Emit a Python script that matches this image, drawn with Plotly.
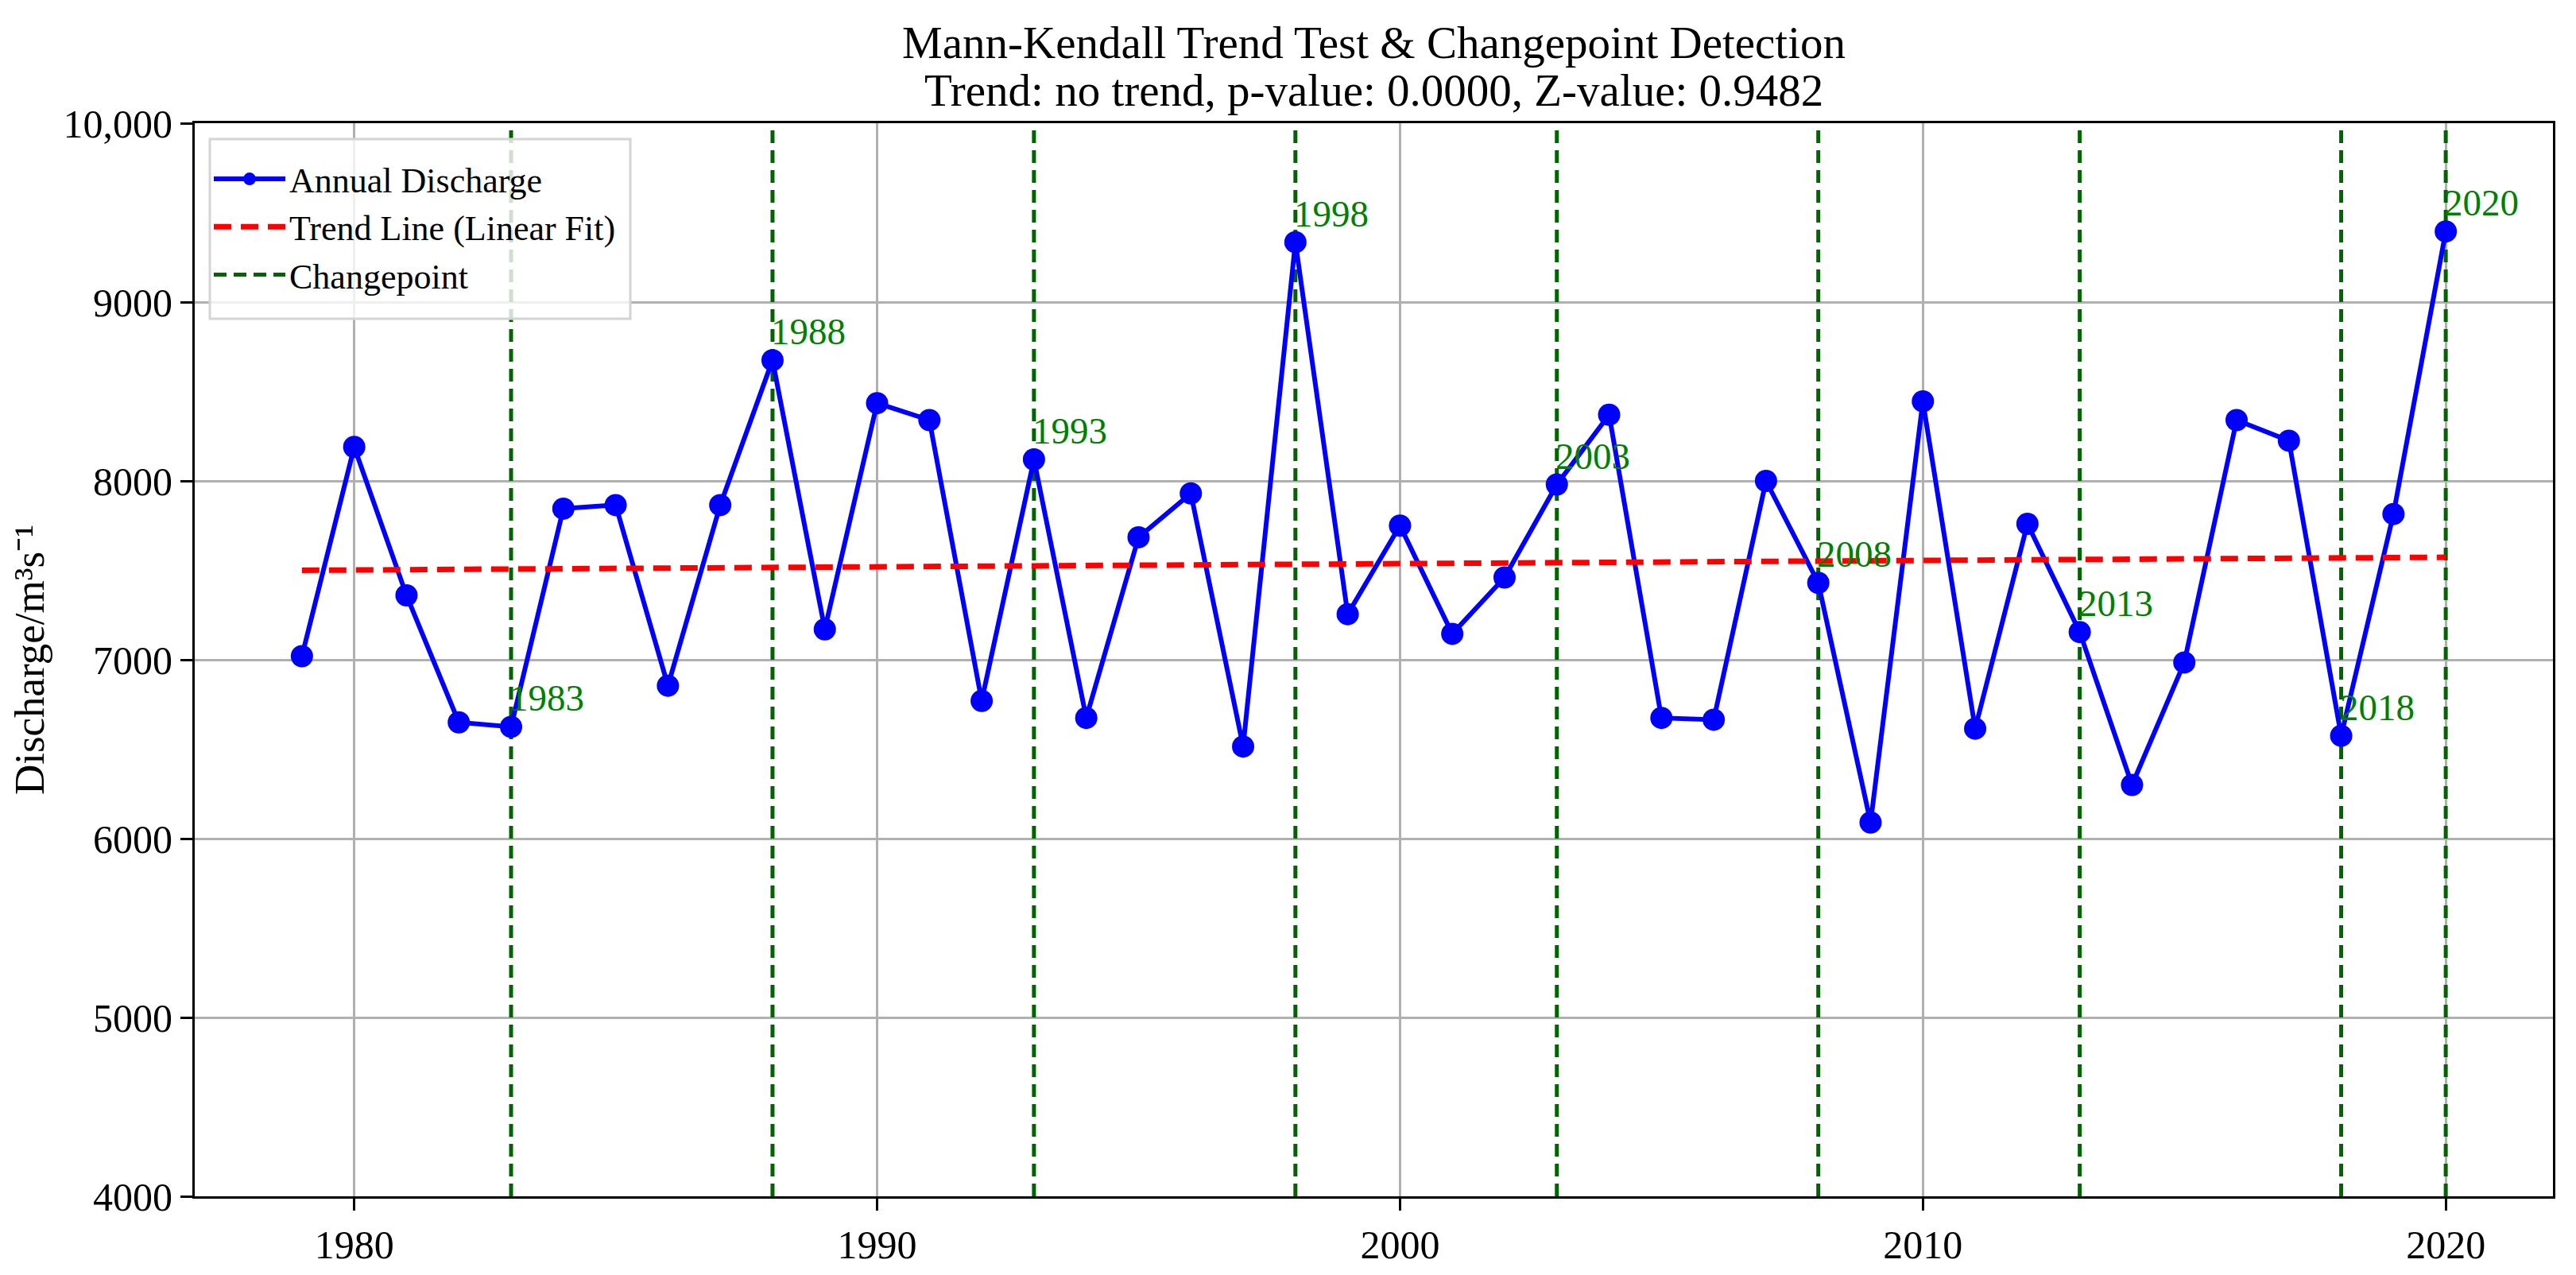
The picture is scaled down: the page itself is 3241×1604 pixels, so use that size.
import plotly.graph_objects as go

years = list(range(1979, 2021))
discharge = [7020, 8190, 7360, 6650, 6625, 7845, 7865, 6855, 7865, 8675,
             7170, 8435, 8340, 6770, 8120, 6675, 7685, 7930, 6515, 9335,
             7255, 7750, 7145, 7460, 7980, 8370, 6675, 6665, 8000, 7430,
             6090, 8445, 6615, 7760, 7155, 6300, 6985, 8340, 8225, 6575,
             7815, 9395]
trend_years = [1979, 2020]
trend_values = [7500, 7573]
changepoints = [1983, 1988, 1993, 1998, 2003, 2008, 2013, 2018, 2020]
y_ticks = [4000, 5000, 6000, 7000, 8000, 9000, 10000]
y_tick_labels = ["4000", "5000", "6000", "7000", "8000", "9000", "10,000"]
x_ticks = [1980, 1990, 2000, 2010, 2020]
y_min, y_max = 4000, 10000
title_lines = ["Mann-Kendall Trend Test & Changepoint Detection",
               "Trend: no trend, p-value: 0.0000, Z-value: 0.9482"]

FONT = "Liberation Serif"
W, H = 3241, 1604
ML, MR, MT, MB = 237, 37, 147, 107
PW, PH = W - ML - MR, H - MT - MB

fig = go.Figure()

# changepoint vertical lines
cx, cy = [], []
for c in changepoints:
    cx += [c, c, None]
    cy += [y_min, y_max, None]
fig.add_trace(go.Scatter(x=cx, y=cy, mode="lines", name="Changepoint",
                         line=dict(color="#006400", width=5, dash="16px,9px"),
                         hoverinfo="skip", legendrank=3))

fig.add_trace(go.Scatter(x=years, y=discharge, mode="lines+markers",
                         name="Annual Discharge",
                         line=dict(color="#0000ff", width=6),
                         marker=dict(color="#0000ff", size=28), legendrank=1))

fig.add_trace(go.Scatter(x=trend_years, y=trend_values, mode="lines",
                         name="Trend Line (Linear Fit)",
                         line=dict(color="#ff0000", width=7, dash="22px,12px"),
                         legendrank=2))

val = dict(zip(years, discharge))
for c in changepoints:
    fig.add_annotation(x=c, y=val[c], text=str(c), showarrow=False,
                       xanchor="left", yanchor="bottom", xshift=-4, yshift=8,
                       font=dict(family=FONT, size=47, color="#008000"))

# title lines
for txt, ypx in zip(title_lines, [46, 106]):
    fig.add_annotation(x=0.5, y=(H - MB - ypx) / PH, xref="paper", yref="paper",
                       text=txt, showarrow=False, xanchor="center", yanchor="middle",
                       font=dict(family=FONT, size=57, color="black"))

# legend frame (matplotlib-like, semi-transparent white)
lx0, lx1 = (256 - ML) / PW, (785 - ML) / PW
ly1, ly0 = (H - MB - 167) / PH, (H - MB - 393) / PH
fig.add_shape(type="rect", xref="paper", yref="paper", x0=lx0, x1=lx1, y0=ly0, y1=ly1,
              line=dict(color="#d4d4d4", width=3), fillcolor="rgba(255,255,255,0.8)",
              layer="above")

fig.update_layout(
    width=W, height=H,
    margin=dict(l=ML, r=MR, t=MT, b=MB),
    paper_bgcolor="white", plot_bgcolor="white",
    font=dict(family=FONT, size=50, color="black"),
    legend=dict(x=(256 - ML) / PW, y=(H - MB - 182) / PH, xanchor="left", yanchor="top",
                bgcolor="rgba(0,0,0,0)", borderwidth=0,
                font=dict(family=FONT, size=44, color="black"),
                traceorder="normal", itemwidth=90, tracegroupgap=0),
    showlegend=True,
)

fig.update_xaxes(range=[1976.95, 2022.05], tickvals=x_ticks,
                 showgrid=True, gridcolor="#b0b0b0", gridwidth=2.5,
                 showline=True, linecolor="black", linewidth=3, mirror=True,
                 ticks="outside", ticklen=15, tickwidth=3, tickcolor="black",
                 zeroline=False, tickfont=dict(family=FONT, size=50))
fig.update_yaxes(range=[y_min, y_max], tickvals=y_ticks, ticktext=y_tick_labels,
                 showgrid=True, gridcolor="#b0b0b0", gridwidth=2.5,
                 showline=True, linecolor="black", linewidth=3, mirror=True,
                 ticks="outside", ticklen=15, tickwidth=3, tickcolor="black",
                 zeroline=False, tickfont=dict(family=FONT, size=50),
                 title=dict(text="Discharge/m³s⁻¹", standoff=14,
                            font=dict(family=FONT, size=53)))

fig.write_html("out.html")
